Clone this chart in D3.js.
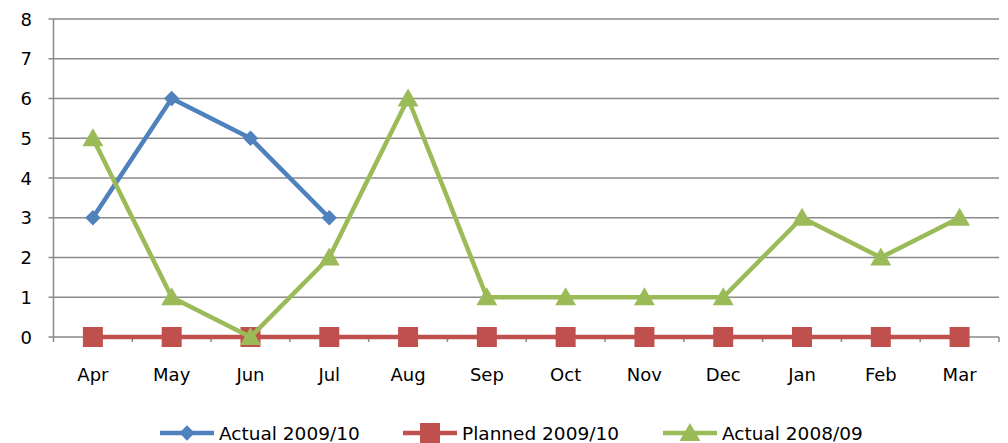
<!DOCTYPE html>
<html>
<head>
<meta charset="utf-8">
<script src="https://cdn.jsdelivr.net/npm/d3@7"></script>
<style>
  body { margin: 0; background: #fff; }
  text { font-family: "DejaVu Sans", sans-serif; fill: #000; }
</style>
</head>
<body>
<svg width="1008" height="443"></svg>
<script>
var months = ["Apr", "May", "Jun", "Jul", "Aug", "Sep", "Oct", "Nov", "Dec", "Jan", "Feb", "Mar"];
var actual0910 = [3, 6, 5, 3];
var planned0910 = [0, 0, 0, 0, 0, 0, 0, 0, 0, 0, 0, 0];
var actual0809 = [5, 1, 0, 2, 6, 1, 1, 1, 1, 3, 2, 3];
var yTicks = [0, 1, 2, 3, 4, 5, 6, 7, 8];

var series = [
  { name: "Actual 2009/10", values: actual0910, color: "#4F81BD", marker: "diamond" },
  { name: "Planned 2009/10", values: planned0910, color: "#C0504D", marker: "square" },
  { name: "Actual 2008/09", values: actual0809, color: "#9BBB59", marker: "triangle" }
];

var svg = d3.select("svg"),
    plotLeft = 53.5, plotRight = 999, plotTop = 19, plotBottom = 337;

var x = d3.scaleBand().domain(months).range([plotLeft, plotRight]);
var y = d3.scaleLinear().domain([0, 8]).range([plotBottom, plotTop]);

// grid lines
svg.append("g").selectAll("line")
  .data(yTicks)
  .enter().append("line")
  .attr("x1", plotLeft - 5).attr("x2", plotRight)
  .attr("y1", d => y(d)).attr("y2", d => y(d))
  .attr("stroke", "#8a8a8a").attr("stroke-width", 1.5);

// y axis line
svg.append("line")
  .attr("x1", plotLeft).attr("x2", plotLeft)
  .attr("y1", plotTop).attr("y2", plotBottom)
  .attr("stroke", "#8a8a8a").attr("stroke-width", 1.5);

// y labels
svg.append("g").selectAll("text")
  .data(yTicks)
  .enter().append("text")
  .attr("x", 32).attr("y", d => y(d) + 6.5)
  .attr("text-anchor", "end")
  .style("font-size", "18px")
  .text(d => d);

// x ticks at band boundaries
var bounds = months.map(m => x(m)).concat([plotRight]);
svg.append("g").selectAll("line")
  .data(bounds)
  .enter().append("line")
  .attr("x1", d => d).attr("x2", d => d)
  .attr("y1", plotBottom).attr("y2", plotBottom + 5)
  .attr("stroke", "#8a8a8a").attr("stroke-width", 1.5);

// x labels
svg.append("g").selectAll("text")
  .data(months)
  .enter().append("text")
  .attr("x", d => x(d) + x.bandwidth() / 2)
  .attr("y", 381)
  .attr("text-anchor", "middle")
  .style("font-size", "18px")
  .text(d => d);

var symbols = {
  diamond: d3.symbol().type(d3.symbolDiamond2).size(150),
  square: d3.symbol().type(d3.symbolSquare).size(400),
  triangle: d3.symbol().type(d3.symbolTriangle).size(190)
};
var shift = { diamond: 0, square: 0, triangle: 2 };

var line = d3.line()
  .x((d, i) => x(months[i]) + x.bandwidth() / 2)
  .y(d => y(d));

series.forEach(function (s) {
  var g = svg.append("g");
  g.append("path")
    .attr("d", line(s.values))
    .attr("fill", "none")
    .attr("stroke", s.color)
    .attr("stroke-width", 4.5)
    .attr("stroke-linejoin", "round");
  g.selectAll("path.mk")
    .data(s.values)
    .enter().append("path")
    .attr("class", "mk")
    .attr("d", symbols[s.marker])
    .attr("transform", (d, i) => "translate(" + (x(months[i]) + x.bandwidth() / 2) + "," + (y(d) + shift[s.marker]) + ")")
    .attr("fill", s.color);
});

// legend
var legendX = [160, 403, 663];
var ly = 433;
series.forEach(function (s, i) {
  var g = svg.append("g").attr("transform", "translate(" + legendX[i] + "," + ly + ")");
  g.append("line").attr("x1", 0).attr("x2", 54).attr("y1", 0).attr("y2", 0)
    .attr("stroke", s.color).attr("stroke-width", 4.5);
  g.append("path").attr("d", symbols[s.marker])
    .attr("transform", "translate(27," + shift[s.marker] + ")")
    .attr("fill", s.color);
  g.append("text").attr("x", 59).attr("y", 7)
    .style("font-size", "18.5px")
    .text(s.name);
});
</script>
</body>
</html>
